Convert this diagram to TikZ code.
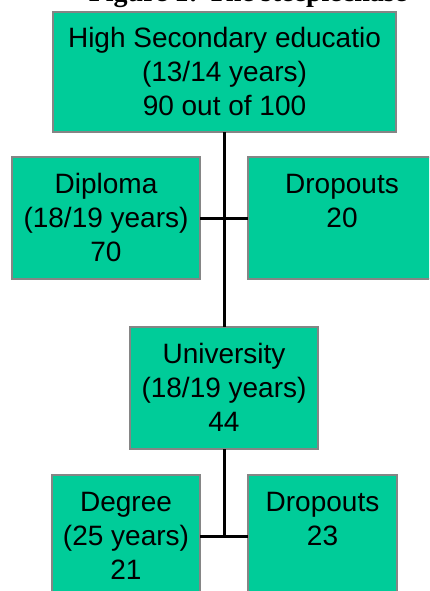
\documentclass[tikz,border=0pt]{standalone}
\usepackage{fontspec}
\setmainfont{Liberation Sans}
\newfontfamily\titlefont{Liberation Serif}
\definecolor{boxfill}{HTML}{00CC99}
\definecolor{boxline}{HTML}{858585}
\newcommand\bxt[3]{\parbox[c][#2][t]{#1}{\centering\fontsize{28}{34}\selectfont\rule{0pt}{36pt}#3\par}}
\tikzset{
  stagebox/.style={draw=boxline, line width=2pt, fill=boxfill, inner sep=0pt, outer sep=0pt, anchor=north west},
  link/.style={draw=black, line width=3pt}
}
\begin{document}
\begin{tikzpicture}[x=1pt,y=-1pt]
\useasboundingbox (0,0) rectangle (429,591);
\clip (0,0) rectangle (429,591);
\fill[white] (0,0) rectangle (429,591);
\node[font=\titlefont\bfseries\fontsize{28}{34}\selectfont, anchor=base, inner sep=0pt] (title) at (248,2) {Figure 1: The steeplechase};
\node[stagebox] (hs) at (53,12) {\bxt{343pt}{120pt}{High Secondary educatio\\(13/14 years)\\90 out of 100}};
\node[stagebox] (dip) at (12,157) {\bxt{188pt}{122pt}{Diploma\\(18/19 years)\\70}};
\node[stagebox] (drop1) at (248,157) {\bxt{188pt}{122pt}{Dropouts\\20}};
\node[stagebox] (uni) at (130,327) {\bxt{188pt}{122pt}{University\\(18/19 years)\\44}};
\node[stagebox] (deg) at (52,475) {\bxt{148pt}{122pt}{Degree\\(25 years)\\21}};
\node[stagebox] (drop2) at (248,475) {\bxt{149pt}{122pt}{Dropouts\\23}};
\draw[link] (hs.south -| uni.north) -- (uni.north);
\draw[link] (dip.east) -- (drop1.west);
\draw[link] (uni.south) -- (uni.south |- deg.east);
\draw[link] (deg.east) -- (drop2.west);
\end{tikzpicture}
\end{document}
